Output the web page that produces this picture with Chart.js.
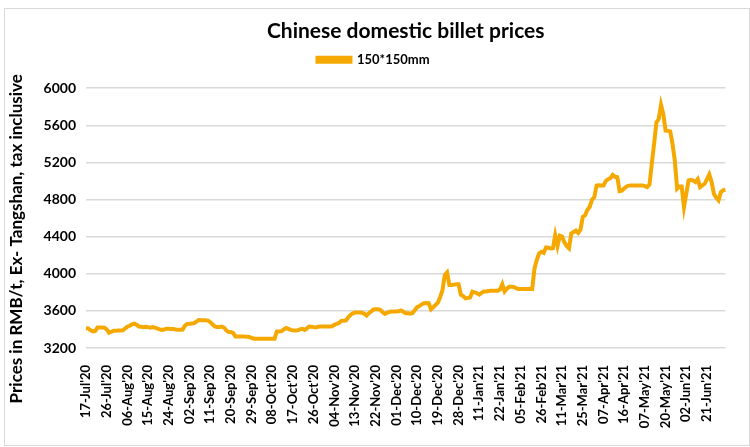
<!DOCTYPE html>
<html>
<head>
<meta charset="utf-8">
<script src="https://cdn.jsdelivr.net/npm/chart.js@4/dist/chart.umd.min.js"></script>
<style>
  body { margin: 0; background: #fff; }
  #wrap { position: relative; width: 750px; height: 447px; }
  #frame { position: absolute; left: 4px; top: 8px; width: 744px; height: 436px; border: 1px solid #d9d9d9; pointer-events: none; }
</style>
</head>
<body>
<div id="wrap">
  <canvas id="billet-chart" width="750" height="447"></canvas>
  <div id="frame"></div>
</div>
<script>
// Chinese domestic billet prices, 150*150mm (RMB/t, ex-Tangshan, tax inclusive)

// one label every 9th data point, as on the original axis
const tickLabels = ["17-Jul'20", "26-Jul'20", "06-Aug'20", "15-Aug'20", "24-Aug'20", "02-Sep'20",
    "11-Sep'20", "20-Sep'20", "29-Sep'20", "08-Oct'20", "17-Oct'20", "26-Oct'20", "04-Nov'20",
    "13-Nov'20", "22-Nov'20", "01-Dec'20", "10-Dec'20", "19-Dec'20", "28-Dec'20", "11-Jan'21",
    "22-Jan'21", "05-Feb'21", "26-Feb'21", "11-Mar'21", "25-Mar'21", "07-Apr'21", "16-Apr'21",
    "07-May'21", "20-May'21", "02-Jun'21", "21-Jun'21"];
const labelStep = 9;

const billetPrices = [
    3415, 3410, 3390, 3380, 3385, 3420, 3420, 3422, 3420, 3400,
    3365, 3375, 3385, 3385, 3388, 3389, 3390, 3410, 3430, 3440, 3455,
    3462, 3450, 3432, 3430, 3425, 3428, 3425, 3420, 3425, 3420,
    3410, 3400, 3395, 3400, 3408, 3408, 3405, 3405, 3400, 3396,
    3396, 3398, 3440, 3460, 3462, 3465, 3468, 3485, 3502, 3500, 3498,
    3500, 3495, 3480, 3455, 3432, 3425, 3425, 3430, 3420, 3390,
    3372, 3372, 3360, 3325, 3325, 3325, 3325, 3325, 3320, 3318,
    3310, 3300, 3300, 3300, 3300, 3300, 3300, 3300, 3300, 3300, 3300,
    3378, 3378, 3382, 3400, 3415, 3405, 3395, 3390, 3388, 3390,
    3400, 3407, 3395, 3410, 3432, 3430, 3425, 3421, 3430, 3432,
    3432, 3432, 3432, 3432, 3435, 3450, 3461, 3470, 3493, 3495, 3496,
    3530, 3557, 3575, 3582, 3582, 3582, 3580, 3570, 3550, 3575,
    3593, 3615, 3618, 3618, 3610, 3585, 3568, 3580, 3590, 3593,
    3593, 3593, 3595, 3604, 3590, 3575, 3575, 3570, 3578, 3610, 3640,
    3654, 3670, 3683, 3685, 3683, 3618, 3640, 3665, 3689, 3750,
    3825, 3986, 4015, 3879, 3879, 3883, 3886, 3886, 3772, 3760,
    3736, 3740, 3745, 3807, 3800, 3790, 3775, 3795, 3810, 3810, 3815,
    3818, 3818, 3818, 3818, 3830, 3887, 3810, 3840, 3861, 3861,
    3858, 3845, 3836, 3836, 3836, 3836, 3836, 3836, 3836, 4058, 4150,
    4219, 4236, 4225, 4284, 4280, 4273, 4275, 4416, 4300, 4410,
    4400, 4340, 4300, 4275, 4434, 4450, 4465, 4440, 4475, 4612,
    4630, 4690, 4720, 4799, 4827, 4952, 4955, 4952, 4952, 5000, 5020,
    5030, 5065, 5045, 5041, 4891, 4895, 4920, 4941, 4950, 4952,
    4952, 4952, 4952, 4952, 4952, 4945, 4934, 4963, 5185, 5400, 5631,
    5668, 5821, 5721, 5542, 5540, 5535, 5400, 5220, 4917, 4941,
    4941, 4719, 4863, 5006, 5013, 5005, 4988, 5020, 4934, 4952,
    4970, 5020, 5070, 4988, 4863, 4820, 4791, 4880, 4900, 4906
];

const yTicks = [3200, 3600, 4000, 4400, 4800, 5200, 5600, 6000];

const categories = billetPrices.map((v, i) => i % labelStep === 0 ? (tickLabels[i / labelStep] || '') : '');

const lineColor = '#f5a900';

Chart.defaults.font.family = 'Lato, "Open Sans", sans-serif';
Chart.defaults.color = '#000';

// extra room between the legend and the plot
const legendGap = {
    id: 'legendGap',
    beforeInit(chart) {
        const fit = chart.legend.fit;
        chart.legend.fit = function() {
            fit.bind(chart.legend)();
            this.height += 12;
        };
    }
};

new Chart(document.getElementById('billet-chart'), {
    type: 'line',
    data: {
        labels: categories,
        datasets: [{
            label: '150*150mm',
            data: billetPrices,
            borderColor: lineColor,
            backgroundColor: lineColor,
            borderWidth: 4,
            pointRadius: 0,
            tension: 0
        }]
    },
    options: {
        responsive: false,
        animation: false,
        layout: { padding: { left: 6, right: 9, top: 10, bottom: 6 } },
        scales: {
            x: {
                grid: { display: false },
                border: { display: false },
                ticks: {
                    autoSkip: false,
                    maxRotation: 90,
                    minRotation: 90,
                    padding: 9,
                    font: { size: 13, weight: 'bold' }
                },
                afterFit: (scale) => { scale.height = 93; }
            },
            y: {
                min: yTicks[0],
                max: yTicks[yTicks.length - 1],
                afterBuildTicks: (scale) => { scale.ticks = yTicks.map(v => ({ value: v })); },
                grid: { color: '#d9d9d9', lineWidth: 1.5, drawTicks: false },
                border: { display: false },
                ticks: {
                    padding: 10,
                    font: { size: 14, weight: 'bold' },
                    callback: (value) => String(value)
                },
                title: {
                    display: true,
                    // trailing spaces push the centred title down a little, like the original
                    text: 'Prices in RMB/t, Ex- Tangshan, tax inclusive          ',
                    font: { size: 17, weight: 'bold' },
                    padding: { top: 0, bottom: 2 }
                },
                afterFit: (scale) => { scale.width = 80; }
            }
        },
        plugins: {
            title: {
                display: true,
                fullSize: false,
                text: 'Chinese domestic billet prices',
                font: { size: 21, weight: 'bold' },
                padding: { top: 9, bottom: 3 }
            },
            legend: {
                labels: {
                    boxWidth: 33,
                    boxHeight: 4,
                    font: { size: 13, weight: 'bold' },
                    padding: 6
                }
            },
            tooltip: { enabled: false }
        }
    },
    plugins: [legendGap]
});
</script>
</body>
</html>
